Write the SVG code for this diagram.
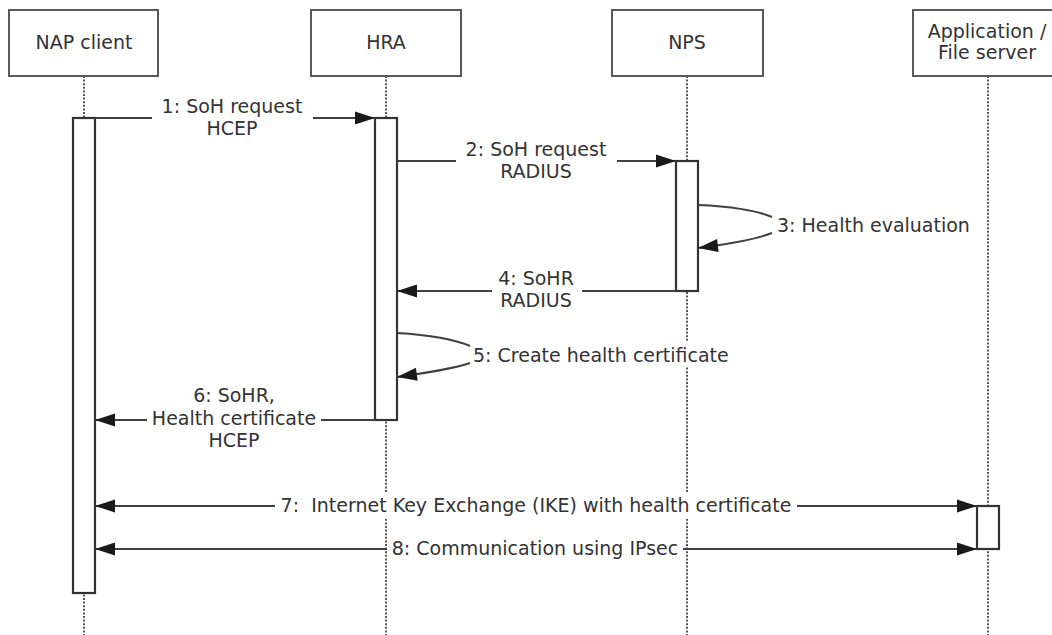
<svg xmlns="http://www.w3.org/2000/svg" width="1052" height="635" viewBox="0 0 1052 635">
<defs>
<style>
text{font-family:"DejaVu Sans","Liberation Sans",sans-serif;font-size:19px;fill:#333}
.mid{text-anchor:middle}
.box{fill:#fff;stroke:#595959;stroke-width:2}
.act{fill:#fff;stroke:#333;stroke-width:2.2}
.life{stroke:#555;stroke-width:2;stroke-dasharray:2 1.6;fill:none}
.msg{stroke:#404040;stroke-width:2;fill:none}
.arr{marker-end:url(#ah)}
.bg{fill:#fff}
</style>
<marker id="ah" markerUnits="userSpaceOnUse" markerWidth="20" markerHeight="13" refX="20" refY="6.5" orient="auto" overflow="visible">
<path d="M0,0 L20,6.5 L0,13 z" fill="#1a1a1a"/>
</marker>
</defs>
<rect width="1052" height="635" fill="#fff"/>

<g id="lifelines">
<line class="life" x1="84" y1="76" x2="84" y2="635"/>
<line class="life" x1="386" y1="76" x2="386" y2="635"/>
<line class="life" x1="687" y1="76" x2="687" y2="635"/>
<line class="life" x1="988" y1="76" x2="988" y2="635"/>
</g>

<g id="nap-client">
<rect class="box" x="9" y="10" width="149" height="66"/>
<text class="mid" x="84" y="49">NAP client</text>
<rect class="act" x="73" y="118" width="22" height="475"/>
</g>
<g id="hra">
<rect class="box" x="311" y="10" width="150" height="66"/>
<text class="mid" x="386" y="49">HRA</text>
<rect class="act" x="375" y="118" width="22" height="302"/>
</g>
<g id="nps">
<rect class="box" x="612" y="10" width="151" height="66"/>
<text class="mid" x="687" y="49">NPS</text>
<rect class="act" x="676" y="161" width="22" height="130"/>
</g>
<g id="app-server">
<rect class="box" x="913" y="10" width="150" height="66"/>
<text class="mid" x="987" y="38">Application /</text>
<text class="mid" x="987" y="59">File server</text>
<rect class="act" x="977" y="506" width="22" height="43"/>
</g>

<g id="connectors">
<!-- 1 -->
<line class="msg" x1="95" y1="118" x2="152" y2="118"/>
<line class="msg arr" x1="313" y1="118" x2="375" y2="118"/>
<text class="mid" x="232" y="113">1: SoH request</text>
<text class="mid" x="232" y="135">HCEP</text>
<!-- 2 -->
<line class="msg" x1="397" y1="161" x2="456" y2="161"/>
<line class="msg arr" x1="617" y1="161" x2="676" y2="161"/>
<text class="mid" x="536" y="156">2: SoH request</text>
<text class="mid" x="536" y="178">RADIUS</text>
<!-- 3 -->
<path class="msg" d="M698,205 C730,206 758,211 772,217"/>
<path class="msg arr" d="M772,233 C756,239 730,244 698,248"/>
<text x="777" y="232">3: Health evaluation</text>
<!-- 4 -->
<line class="msg arr" x1="492" y1="291" x2="397" y2="291"/>
<line class="msg" x1="582" y1="291" x2="676" y2="291"/>
<text class="mid" x="536" y="285">4: SoHR</text>
<text class="mid" x="536" y="307">RADIUS</text>
<!-- 5 -->
<path class="msg" d="M397,333 C430,335 456,340 470,346"/>
<path class="msg arr" d="M470,363 C452,369 426,373 397,377"/>
<rect class="bg" x="471" y="341" width="262" height="26"/>
<text x="473" y="362">5: Create health certificate</text>
<!-- 6 -->
<line class="msg arr" x1="147" y1="420" x2="95" y2="420"/>
<line class="msg" x1="321" y1="420" x2="375" y2="420"/>
<text class="mid" x="234" y="402">6: SoHR,</text>
<text class="mid" x="234" y="425">Health certificate</text>
<text class="mid" x="234" y="447">HCEP</text>
<!-- 7 -->
<line class="msg arr" x1="275" y1="506" x2="95" y2="506"/>
<line class="msg arr" x1="797" y1="506" x2="977" y2="506"/>
<rect class="bg" x="277" y="493" width="518" height="26"/>
<text class="mid" x="536" y="512" xml:space="preserve">7:  Internet Key Exchange (IKE) with health certificate</text>
<!-- 8 -->
<line class="msg arr" x1="387" y1="549" x2="95" y2="549"/>
<line class="msg arr" x1="683" y1="549" x2="977" y2="549"/>
<rect class="bg" x="389" y="536" width="292" height="26"/>
<text class="mid" x="535" y="555">8: Communication using IPsec</text>
</g>
</svg>
